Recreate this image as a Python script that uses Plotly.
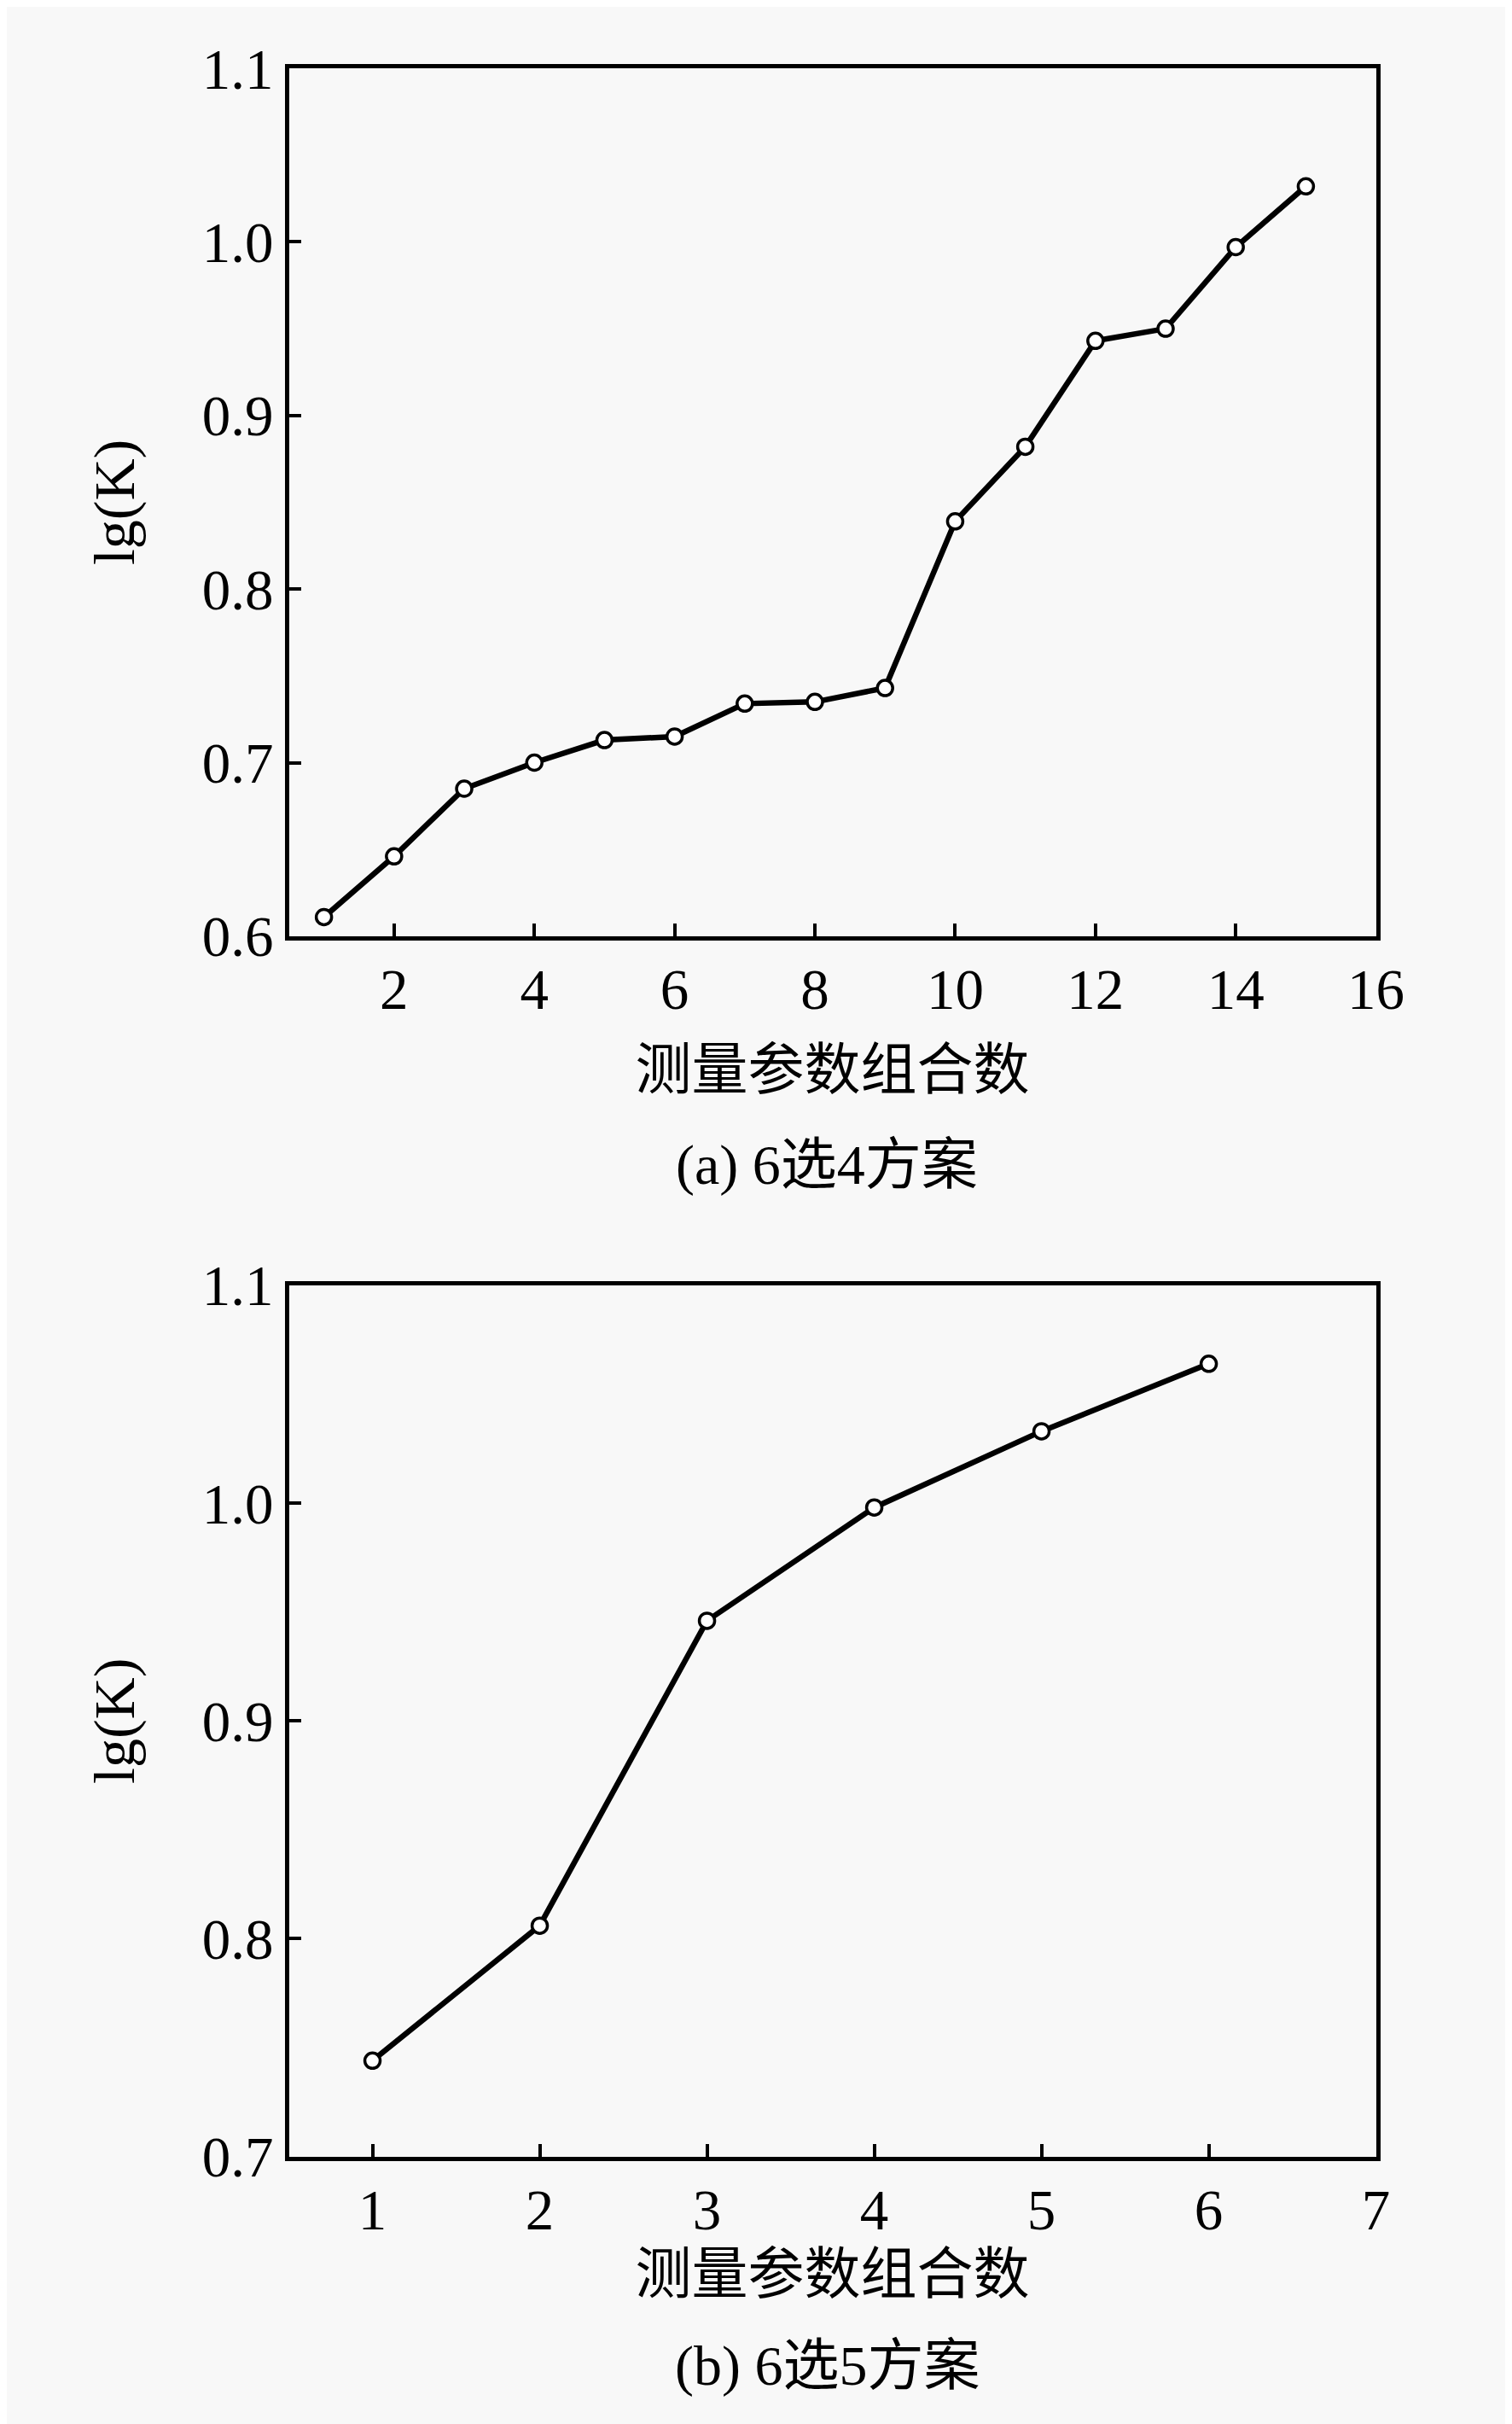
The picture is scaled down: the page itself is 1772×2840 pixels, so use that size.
import plotly.graph_objects as go

# Data
x_a = list(range(1, 16))
y_a = [0.611, 0.646, 0.685, 0.700, 0.713, 0.715, 0.734, 0.735, 0.743,
       0.839, 0.882, 0.943, 0.950, 0.997, 1.032]
x_b = [1, 2, 3, 4, 5, 6]
y_b = [0.744, 0.806, 0.946, 0.998, 1.033, 1.064]

xticks_a = [2, 4, 6, 8, 10, 12, 14, 16]
xticks_b = [1, 2, 3, 4, 5, 6, 7]
yticks_a = [0.6, 0.7, 0.8, 0.9, 1.0, 1.1]
yticks_b = [0.7, 0.8, 0.9, 1.0, 1.1]

xtitle = "测量参数组合数"
ytitle = "lg(K)"
caption_a = "(a) 6选4方案"
caption_b = "(b) 6选5方案"

W, H = 1772, 2840
FONT = "Liberation Serif, Times New Roman, Noto Sans CJK SC"
FS_TICK = 67
FS_TITLE = 66
BG = "#f8f8f8"

fig = go.Figure()

line_style = dict(color="black", width=6.5)
marker_style = dict(symbol="circle", size=18, color="white",
                    line=dict(color="black", width=3.5))

fig.add_trace(go.Scatter(x=x_a, y=y_a, mode="lines+markers", line=line_style,
                         marker=marker_style, xaxis="x", yaxis="y", showlegend=False))
fig.add_trace(go.Scatter(x=x_b, y=y_b, mode="lines+markers", line=line_style,
                         marker=marker_style, xaxis="x2", yaxis="y2", showlegend=False))

L, R = 337 / W, 1636 / W
top_dom = [(H - 1080) / H, (H - 36) / H]
bot_dom = [(H - 2548) / H, (H - 1500) / H]

axis_common = dict(showline=True, linecolor="black", linewidth=4.5, mirror=True,
                   ticks="inside", ticklen=15, tickwidth=3.5, tickcolor="black",
                   showgrid=False, zeroline=False,
                   tickfont=dict(family=FONT, size=FS_TICK, color="black"))

title_font = dict(family=FONT, size=FS_TITLE, color="black")
ytitle_font = dict(family=FONT, size=68, color="black")

fig.update_layout(
    width=W, height=H,
    paper_bgcolor=BG, plot_bgcolor=BG,
    margin=dict(l=0, r=0, t=0, b=0),
    font=dict(family=FONT, size=FS_TITLE, color="black"),
    xaxis=dict(domain=[L, R], anchor="y", range=[0.5, 16], tickvals=xticks_a,
               title=dict(text=xtitle, standoff=36, font=title_font),
               **axis_common),
    yaxis=dict(domain=top_dom, anchor="x", range=[0.6, 1.1], tickvals=yticks_a,
               tickformat=".1f",
               title=dict(text=ytitle, standoff=58, font=ytitle_font),
               **axis_common),
    xaxis2=dict(domain=[L, R], anchor="y2", range=[0.5, 7], tickvals=xticks_b,
                title=dict(text=xtitle, standoff=18, font=title_font),
                **axis_common),
    yaxis2=dict(domain=bot_dom, anchor="x2", range=[0.7, 1.1], tickvals=yticks_b,
                tickformat=".1f",
                title=dict(text=ytitle, standoff=58, font=ytitle_font),
                **axis_common),
)

fig.add_annotation(text=caption_a, xref="paper", yref="paper",
                   x=980 / W, y=(H - 1355) / H, showarrow=False,
                   xanchor="center", yanchor="middle", font=title_font)
fig.add_annotation(text=caption_b, xref="paper", yref="paper",
                   x=980 / W, y=(H - 2800) / H, showarrow=False,
                   xanchor="center", yanchor="middle", font=title_font)

fig.write_html("out.html")
